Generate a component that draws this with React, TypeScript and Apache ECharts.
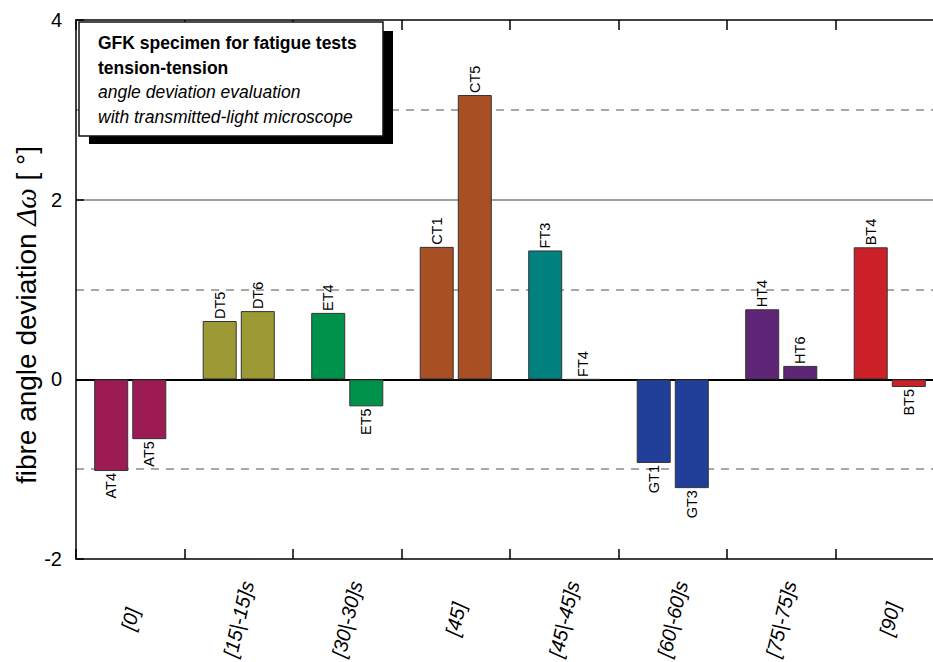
import React, { useEffect, useRef } from "react";
import * as echarts from "echarts";

const categories = ["[0]", "[15|-15]s", "[30|-30]s", "[45]", "[45|-45]s", "[60|-60]s", "[75|-75]s", "[90]"];
const firstNames = ["AT4", "DT5", "ET4", "CT1", "FT3", "GT1", "HT4", "BT4"];
const firstValues = [-1.02, 0.65, 0.74, 1.475, 1.435, -0.93, 0.78, 1.47];
const secondNames = ["AT5", "DT6", "ET5", "CT5", "FT4", "GT3", "HT6", "BT5"];
const secondValues = [-0.665, 0.76, -0.3, 3.165, 0, -1.21, 0.15, -0.085];
const groupColors = ["#9c1b52", "#9d9a35", "#00924a", "#a84f24", "#00807f", "#213f98", "#5f2577", "#cc2029"];
const yTicks = [-2, 0, 2, 4];
const legendLines = [
  "GFK specimen for fatigue tests",
  "tension-tension",
  "angle deviation evaluation",
  "with transmitted-light microscope",
];

const FONT = "'Liberation Sans', Arial, sans-serif";

function buildData(values: number[], names: string[]) {
  return values.map((v, i) => {
    const neg = v < 0;
    return {
      value: v,
      name: names[i],
      itemStyle: { color: groupColors[i], borderColor: "#333", borderWidth: 1 },
      label: {
        show: true,
        formatter: names[i],
        position: neg ? "bottom" : "top",
        rotate: 90,
        align: neg ? "right" : "left",
        verticalAlign: "middle",
        distance: 2,
        fontSize: 14.5,
        fontFamily: FONT,
        color: "#000",
      },
    };
  });
}

export default function App() {
  const ref = useRef<HTMLDivElement>(null);
  useEffect(() => {
    if (!ref.current) return;
    const chart = echarts.init(ref.current, null, { renderer: "svg" });
    const legendGraphics: any[] = [
      { type: "rect", shape: { x: 89, y: 31, width: 304, height: 113 }, style: { fill: "#000" }, z: 100 },
      { type: "rect", shape: { x: 79, y: 22, width: 304, height: 114 }, style: { fill: "#fff", stroke: "#111", lineWidth: 1.5 }, z: 101 },
      ...legendLines.map((t, i) => ({
        type: "text",
        x: 98,
        y: 43 + i * 24.7,
        z: 102,
        style: {
          text: t,
          fontSize: 17.5,
          fontFamily: FONT,
          fontWeight: i < 2 ? "bold" : "normal",
          fontStyle: i < 2 ? "normal" : "italic",
          fill: "#000",
          align: "left",
          verticalAlign: "middle",
        },
      })),
      {
        type: "text",
        x: 26,
        y: 315,
        rotation: Math.PI / 2,
        z: 102,
        style: {
          text: "fibre angle deviation {i|Δω} [ °]",
          fontSize: 28,
          fontFamily: FONT,
          fill: "#000",
          align: "center",
          verticalAlign: "middle",
          rich: {
            i: { fontSize: 29, fontFamily: "'Liberation Serif', 'Times New Roman', serif", fontStyle: "italic", fill: "#000" },
          },
        },
      },
    ];
    chart.setOption({
      animation: false,
      backgroundColor: "#fff",
      grid: { left: 76, top: 20, width: 868, height: 541 },
      xAxis: [
        {
          type: "category",
          data: categories,
          position: "bottom",
          axisLine: { show: true, onZero: false, lineStyle: { color: "#000", width: 1.5 } },
          axisTick: { show: true, inside: true, length: 10, lineStyle: { color: "#000", width: 1.5 } },
          axisLabel: {
            rotate: 77,
            align: "center",
            verticalAlign: "middle",
            margin: 60,
            fontSize: 20,
            fontStyle: "italic",
            fontFamily: FONT,
            color: "#000",
            interval: 0,
          },
          splitLine: { show: false },
        },
        {
          type: "category",
          data: categories,
          position: "top",
          axisLine: { show: true, onZero: false, lineStyle: { color: "#000", width: 1.5 } },
          axisTick: { show: true, inside: true, length: 10, lineStyle: { color: "#000", width: 1.5 } },
          axisLabel: { show: false },
          splitLine: { show: false },
        },
      ],
      yAxis: [
        {
          type: "value",
          min: -2,
          max: 4,
          interval: 2,
          position: "left",
          axisLine: { show: true, lineStyle: { color: "#000", width: 1.5 } },
          axisTick: { show: true, inside: true, length: 8, lineStyle: { color: "#000", width: 1.5 } },
          axisLabel: {
            margin: 14,
            fontSize: 20,
            fontFamily: FONT,
            color: "#000",
            formatter: (v: number) => (yTicks.includes(v) ? String(v) : ""),
          },
          splitLine: {
            show: true,
            lineStyle: { color: ["rgba(0,0,0,0)", "#000", "#a0a0a0", "rgba(0,0,0,0)"], width: 2, type: "solid" },
          },
        },
        {
          type: "value",
          min: -2,
          max: 4,
          interval: 1,
          axisLine: { show: false },
          axisTick: { show: false },
          axisLabel: { show: false },
          splitLine: {
            show: true,
            lineStyle: {
              color: ["rgba(0,0,0,0)", "#8c8c8c", "rgba(0,0,0,0)", "#8c8c8c", "rgba(0,0,0,0)", "#8c8c8c", "rgba(0,0,0,0)"],
              width: 1.5,
              type: [8, 7],
            },
          },
        },
      ],
      series: [
        {
          type: "bar",
          xAxisIndex: 0,
          yAxisIndex: 0,
          barWidth: 34,
          barGap: "12%",
          data: buildData(firstValues, firstNames),
        },
        {
          type: "bar",
          xAxisIndex: 0,
          yAxisIndex: 0,
          barWidth: 34,
          barGap: "12%",
          data: buildData(secondValues, secondNames),
        },
      ],
      graphic: legendGraphics,
    });
    return () => chart.dispose();
  }, []);
  return (
    <div style={{ position: "absolute", left: 0, top: 0, width: 933, height: 662, overflow: "hidden", background: "#fff" }}>
      <div ref={ref} style={{ width: 960, height: 662 }} />
    </div>
  );
}
